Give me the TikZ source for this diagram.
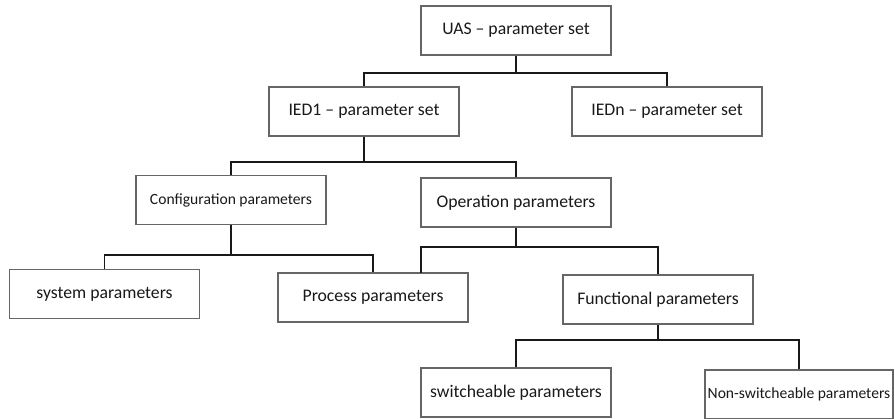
\documentclass[tikz,border=0pt]{standalone}
\usepackage{fontspec}
\setmainfont{Carlito}
\begin{document}
\begin{tikzpicture}[x=1pt,y=-1pt,
  box/.style={draw=black!60, line width=1.2pt, fill=white, inner sep=0pt,
    minimum width=190pt, minimum height=49pt, font=\fontsize{17.7pt}{20pt}\selectfont, text=black!90},
  smallbox/.style={box, font=\fontsize{15.6pt}{18pt}\selectfont},
  conn/.style={draw=black!90, line width=1.8pt}]
\useasboundingbox (0,0) rectangle (895,419);
\node[box] (uas) at (516,30.5) {UAS -- parameter set};
\node[box] (ied1) at (364,111.5) {IED1 -- parameter set};
\node[box] (iedn) at (667,111.5) {IEDn -- parameter set};
\node[smallbox] (conf) at (231,200) {Configuration parameters};
\node[box] (oper) at (516,202.5) {Operation parameters};
\node[box] (sys) at (104.5,294) {system parameters};
\node[box] (proc) at (373,297.5) {Process parameters};
\node[box] (func) at (658,299.5) {Functional parameters};
\node[box] (sw) at (516,392.5) {switcheable parameters};
\node[smallbox, minimum width=188pt] (nsw) at (799,394.5) {Non-switcheable parameters};
% connectors
\coordinate (j1) at (516,73);
\draw[conn] (uas.south) -- (j1);
\draw[conn] (ied1.north) |- (j1) -| (iedn.north);
\coordinate (j2) at (364,162);
\draw[conn] (ied1.south) -- (j2);
\draw[conn] (conf.north) |- (j2) -| (oper.north);
\coordinate (j3) at (231,255);
\draw[conn] (conf.south) -- (j3);
\draw[conn] (sys.north) |- (j3) -| (proc.north);
\coordinate (j4) at (516,247);
\coordinate (pl) at (421,247);
\coordinate (plb) at (421,273);
\draw[conn] (oper.south) -- (j4);
\draw[conn] (plb) -- (pl) -- (j4) -| (func.north);
\coordinate (j5) at (658,340);
\draw[conn] (func.south) -- (j5);
\draw[conn] (sw.north) |- (j5) -| (nsw.north);
\end{tikzpicture}
\end{document}
